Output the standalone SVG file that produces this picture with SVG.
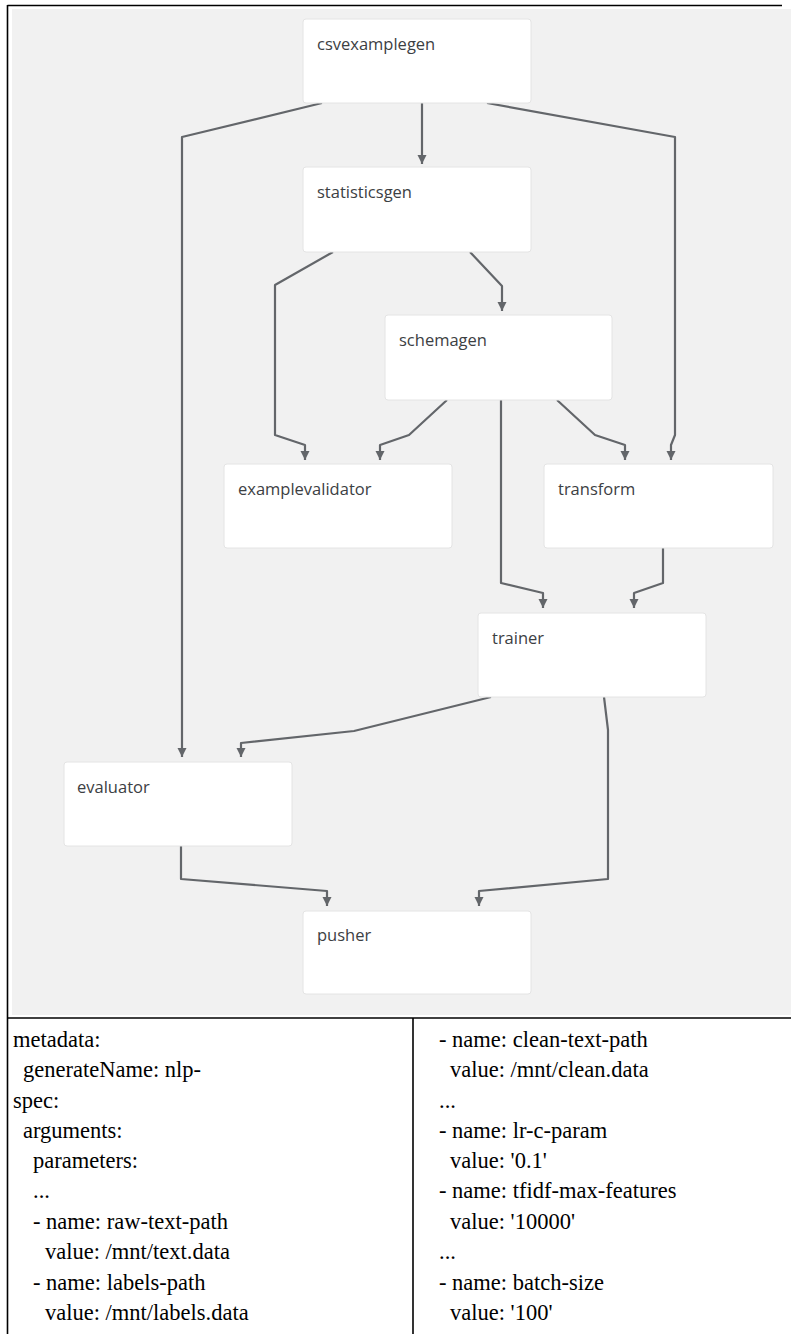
<svg xmlns="http://www.w3.org/2000/svg" width="791" height="1334" viewBox="0 0 791 1334">
<style>
.node rect{fill:#ffffff;stroke:#e4e4e4;stroke-width:1}
.node text{font-family:"Open Sans","Noto Sans",sans-serif;font-size:16.5px;fill:#3c4043}
.edge{fill:none;stroke:#63666a;stroke-width:2.2;stroke-linejoin:round}
.yaml{font-family:"Liberation Serif","Times New Roman",serif;font-size:22.5px;fill:#000}
.rule{stroke:#000;stroke-width:1.6;fill:none}
</style>
<defs>
<marker id="arr" viewBox="0 0 10 10" refX="10" refY="5" markerWidth="9" markerHeight="12" markerUnits="userSpaceOnUse" orient="auto">
<path d="M0,0 L10,5 L0,10 z" fill="#63666a"/>
</marker>
</defs>
<rect x="12" y="9" width="779" height="1006" fill="#f1f1f1"/>
<g id="frame">
<line class="rule" x1="7.5" y1="5.5" x2="782" y2="5.5"/>
<line class="rule" x1="7.5" y1="5" x2="7.5" y2="1334"/>
<line class="rule" x1="7.5" y1="1018" x2="791" y2="1018"/>
<line class="rule" x1="413" y1="1018" x2="413" y2="1334"/>
</g>
<g id="connectors">
<path class="edge" marker-end="url(#arr)" d="M422,103 L422,164"/>
<path class="edge" marker-end="url(#arr)" d="M322,103 L182,137 L182,757"/>
<path class="edge" marker-end="url(#arr)" d="M487,103 L675,137 L675,435 L671,445 L671,460"/>
<path class="edge" marker-end="url(#arr)" d="M333,252 L275,285 L275,435 L305,445 L305,460"/>
<path class="edge" marker-end="url(#arr)" d="M470,252 L502,286 L502,311"/>
<path class="edge" marker-end="url(#arr)" d="M447,400 L409,435 L380,445 L380,460"/>
<path class="edge" marker-end="url(#arr)" d="M557,400 L595,435 L625,445 L625,460"/>
<path class="edge" marker-end="url(#arr)" d="M501,400 L501,583 L543,593 L543,608"/>
<path class="edge" marker-end="url(#arr)" d="M663,548 L663,583 L634,593 L634,608"/>
<path class="edge" marker-end="url(#arr)" d="M491,697 L354,731 L241,743 L241,757"/>
<path class="edge" marker-end="url(#arr)" d="M604,697 L608,730 L608,879 L479,891 L479,906"/>
<path class="edge" marker-end="url(#arr)" d="M181,846 L181,879 L327,891 L327,906"/>
</g>
<g id="csvexamplegen" class="node"><rect x="303" y="19" width="228" height="84" rx="3"/><text x="317" y="50">csvexamplegen</text></g>
<g id="statisticsgen" class="node"><rect x="303" y="167" width="228" height="85" rx="3"/><text x="317" y="198">statisticsgen</text></g>
<g id="schemagen" class="node"><rect x="385" y="315" width="227" height="85" rx="3"/><text x="399" y="346">schemagen</text></g>
<g id="examplevalidator" class="node"><rect x="224" y="464" width="228" height="84" rx="3"/><text x="238" y="495">examplevalidator</text></g>
<g id="transform" class="node"><rect x="544" y="464" width="229" height="84" rx="3"/><text x="558" y="495">transform</text></g>
<g id="trainer" class="node"><rect x="478" y="613" width="228" height="84" rx="3"/><text x="492" y="644">trainer</text></g>
<g id="evaluator" class="node"><rect x="64" y="762" width="228" height="84" rx="3"/><text x="77" y="793">evaluator</text></g>
<g id="pusher" class="node"><rect x="303" y="911" width="228" height="83" rx="3"/><text x="317" y="941">pusher</text></g>
<g id="yaml-left" class="yaml">
<text class="yaml" x="13" y="1047">metadata:</text>
<text class="yaml" x="23" y="1077">generateName: nlp-</text>
<text class="yaml" x="13" y="1107.5">spec:</text>
<text class="yaml" x="23" y="1138">arguments:</text>
<text class="yaml" x="33" y="1168">parameters:</text>
<text class="yaml" x="33" y="1198">...</text>
<text class="yaml" x="33" y="1229">- name: raw-text-path</text>
<text class="yaml" x="45" y="1259">value: /mnt/text.data</text>
<text class="yaml" x="33" y="1289.5">- name: labels-path</text>
<text class="yaml" x="45" y="1320">value: /mnt/labels.data</text>
</g>
<g id="yaml-right" class="yaml">
<text class="yaml" x="439" y="1047">- name: clean-text-path</text>
<text class="yaml" x="450" y="1077">value: /mnt/clean.data</text>
<text class="yaml" x="439" y="1107.5">...</text>
<text class="yaml" x="439" y="1138">- name: lr-c-param</text>
<text class="yaml" x="450" y="1168">value: '0.1'</text>
<text class="yaml" x="439" y="1198">- name: tfidf-max-features</text>
<text class="yaml" x="450" y="1229">value: '10000'</text>
<text class="yaml" x="439" y="1259">...</text>
<text class="yaml" x="439" y="1289.5">- name: batch-size</text>
<text class="yaml" x="450" y="1320">value: '100'</text>
</g>
</svg>
